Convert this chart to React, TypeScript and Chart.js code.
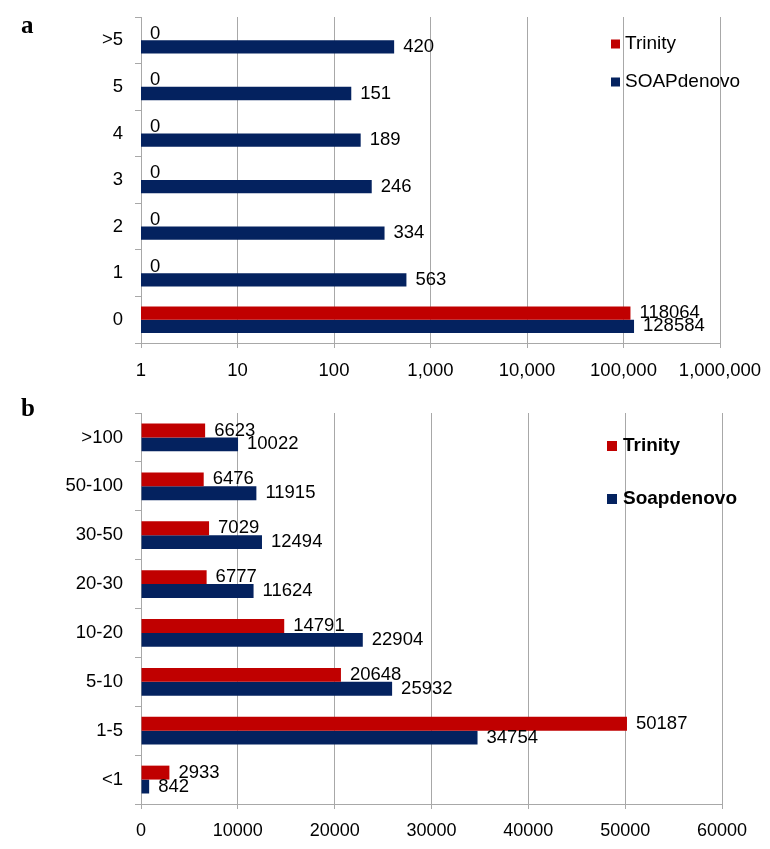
import React, { useEffect, useRef } from "react";
import { Chart, registerables } from "chart.js";

Chart.register(...registerables);

// ---- Panel a data ----
const categoriesA = [">5", "5", "4", "3", "2", "1", "0"];
const trinityA = [0, 0, 0, 0, 0, 0, 118064];
const soapA = [420, 151, 189, 246, 334, 563, 128584];
const xTicksA = [1, 10, 100, 1000, 10000, 100000, 1000000];
const seriesNamesA = ["Trinity", "SOAPdenovo"];

// ---- Panel b data ----
const categoriesB = [">100", "50-100", "30-50", "20-30", "10-20", "5-10", "1-5", "<1"];
const trinityB = [6623, 6476, 7029, 6777, 14791, 20648, 50187, 2933];
const soapB = [10022, 11915, 12494, 11624, 22904, 25932, 34754, 842];
const xTicksB = [0, 10000, 20000, 30000, 40000, 50000, 60000];
const seriesNamesB = ["Trinity", "Soapdenovo"];

const RED = "#C00000";
const NAVY = "#04225F";
const GRID = "#a8a8a8";
const FONT = "'Liberation Sans', Arial, sans-serif";
const SERIF = "'Liberation Serif', 'Times New Roman', serif";

function withCommas(v: number): string {
  return String(Math.round(v)).replace(/\B(?=(\d{3})+(?!\d))/g, ",");
}

type OverlayCfg = {
  panel: string;
  panelBaseline: number;
  legendX: number;
  legendY: number;
  legendGap: number;
  box: number;
  textGap: number;
  legendFont: string;
  labelFont: string;
};

function makeOverlay(cfg: OverlayCfg) {
  return {
    id: "overlay",
    afterDatasetsDraw(chart: any) {
      const ctx = chart.ctx as CanvasRenderingContext2D;
      ctx.save();
      // value labels
      ctx.fillStyle = "#000";
      ctx.font = cfg.labelFont;
      ctx.textBaseline = "middle";
      ctx.textAlign = "left";
      chart.data.datasets.forEach((ds: any, i: number) => {
        const meta = chart.getDatasetMeta(i);
        meta.data.forEach((el: any, j: number) => {
          const v = ds.data[j];
          const x = isFinite(el.x) ? el.x : chart.scales.x.getPixelForValue(v);
          ctx.fillText(String(v), x + 9, el.y);
        });
      });
      // legend
      chart.data.datasets.forEach((ds: any, i: number) => {
        const y = cfg.legendY + i * cfg.legendGap;
        ctx.fillStyle = ds.backgroundColor;
        ctx.fillRect(cfg.legendX, y - cfg.box / 2, cfg.box, cfg.box);
        ctx.fillStyle = "#000";
        ctx.font = cfg.legendFont;
        ctx.textBaseline = "middle";
        ctx.fillText(ds.label, cfg.legendX + cfg.box + cfg.textGap, y);
      });
      // panel letter
      ctx.font = `bold 25px ${SERIF}`;
      ctx.textBaseline = "alphabetic";
      ctx.fillText(cfg.panel, 21, cfg.panelBaseline);
      ctx.restore();
    },
  };
}

function yAxisFit(s: any) {
  s.width = 141;
  s.paddingTop = 0;
  s.paddingBottom = 0;
}

function xAxisFit(h: number) {
  return (s: any) => {
    s.height = h;
    s.paddingLeft = 0;
    s.paddingRight = 0;
  };
}

function PanelA() {
  const ref = useRef<HTMLCanvasElement>(null);
  useEffect(() => {
    if (!ref.current) return;
    const chart = new Chart(ref.current, {
      type: "bar",
      data: {
        labels: categoriesA,
        datasets: [
          { label: seriesNamesA[0], data: trinityA, backgroundColor: RED, borderWidth: 0, categoryPercentage: 0.57, barPercentage: 1 },
          { label: seriesNamesA[1], data: soapA, backgroundColor: NAVY, borderWidth: 0, categoryPercentage: 0.57, barPercentage: 1 },
        ],
      },
      options: {
        indexAxis: "y",
        animation: false,
        responsive: false,
        layout: { padding: { top: 17, right: 50, left: 0, bottom: 0 } },
        plugins: { legend: { display: false }, tooltip: { enabled: false } },
        scales: {
          x: {
            type: "logarithmic",
            min: 1,
            max: 1000000,
            afterBuildTicks: (s: any) => {
              s.ticks = xTicksA.map((v) => ({ value: v }));
            },
            afterFit: xAxisFit(47),
            ticks: {
              callback: (v: any) => withCommas(Number(v)),
              font: { size: 18.5, family: FONT },
              color: "#000",
              padding: 12,
              maxRotation: 0,
              autoSkip: false,
            },
            grid: { color: GRID, tickLength: 5, drawTicks: true },
            border: { color: GRID },
          },
          y: {
            afterFit: yAxisFit,
            ticks: { font: { size: 18.5, family: FONT }, color: "#000", padding: 12 },
            grid: { drawOnChartArea: false, drawTicks: true, tickLength: 6, color: GRID, offset: true },
            border: { color: GRID },
          },
        },
      } as any,
      plugins: [
        makeOverlay({
          panel: "a",
          panelBaseline: 33,
          legendX: 611,
          legendY: 44,
          legendGap: 38,
          box: 9,
          textGap: 5,
          legendFont: `19px ${FONT}`,
          labelFont: `18.5px ${FONT}`,
        }),
      ],
    });
    return () => chart.destroy();
  }, []);
  return <canvas ref={ref} width={770} height={390} style={{ display: "block" }} />;
}

function PanelB() {
  const ref = useRef<HTMLCanvasElement>(null);
  useEffect(() => {
    if (!ref.current) return;
    const chart = new Chart(ref.current, {
      type: "bar",
      data: {
        labels: categoriesB,
        datasets: [
          { label: seriesNamesB[0], data: trinityB, backgroundColor: RED, borderWidth: 0, categoryPercentage: 0.57, barPercentage: 1 },
          { label: seriesNamesB[1], data: soapB, backgroundColor: NAVY, borderWidth: 0, categoryPercentage: 0.57, barPercentage: 1 },
        ],
      },
      options: {
        indexAxis: "y",
        animation: false,
        responsive: false,
        layout: { padding: { top: 23, right: 48, left: 0, bottom: 0 } },
        plugins: { legend: { display: false }, tooltip: { enabled: false } },
        scales: {
          x: {
            type: "linear",
            min: 0,
            max: 60000,
            afterBuildTicks: (s: any) => {
              s.ticks = xTicksB.map((v) => ({ value: v }));
            },
            afterFit: xAxisFit(45),
            ticks: {
              callback: (v: any) => String(v),
              font: { size: 18, family: FONT },
              color: "#000",
              padding: 11,
              maxRotation: 0,
              autoSkip: false,
            },
            grid: { color: GRID, tickLength: 5, drawTicks: true },
            border: { color: GRID },
          },
          y: {
            afterFit: yAxisFit,
            ticks: { font: { size: 18.5, family: FONT }, color: "#000", padding: 12 },
            grid: { drawOnChartArea: false, drawTicks: true, tickLength: 6, color: GRID, offset: true },
            border: { color: GRID },
          },
        },
      } as any,
      plugins: [
        makeOverlay({
          panel: "b",
          panelBaseline: 26,
          legendX: 607,
          legendY: 56,
          legendGap: 53,
          box: 10,
          textGap: 6,
          legendFont: `bold 19px ${FONT}`,
          labelFont: `18.5px ${FONT}`,
        }),
      ],
    });
    return () => chart.destroy();
  }, []);
  return <canvas ref={ref} width={770} height={459} style={{ display: "block" }} />;
}

export default function App() {
  return (
    <div style={{ position: "absolute", left: 0, top: 0, width: 770, height: 849, background: "#fff" }}>
      <PanelA />
      <PanelB />
    </div>
  );
}
